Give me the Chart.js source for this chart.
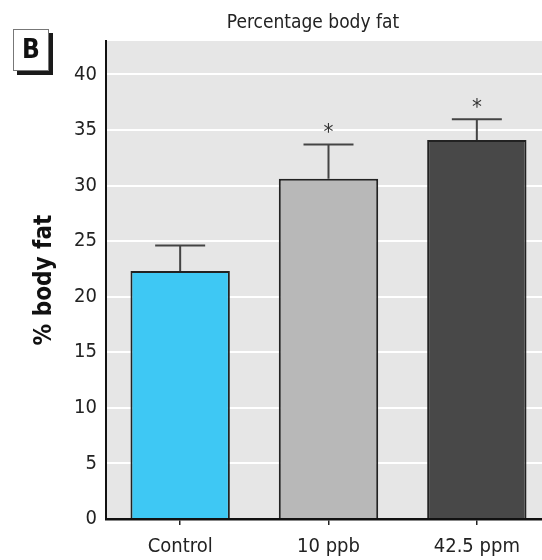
<!DOCTYPE html>
<html>
<head>
<meta charset="utf-8">
<script src="https://cdn.jsdelivr.net/npm/chart.js@4.4.0/dist/chart.umd.min.js"></script>
<style>
  html, body { margin: 0; padding: 0; background: #fff; overflow: hidden; }
  #wrap { position: relative; width: 551px; height: 560px; }
</style>
</head>
<body>
<div id="wrap"><canvas id="myChart"></canvas></div>
<script>
const categories = ['Control', '10 ppb', '42.5 ppm'];
const meanFat = [22.3, 30.6, 34.1];
const errorFat = [2.3, 3.1, 1.85];
const significant = [false, true, true];
const yTicks = [0, 5, 10, 15, 20, 25, 30, 35, 40];

const fontFamily = '"Liberation Sans Narrow", "DejaVu Sans Condensed", sans-serif';

// gray plot background, error bars, asterisks, panel letter and title
const decorations = {
    id: 'decorations',
    beforeDraw(chart) {
        const a = chart.chartArea;
        const ctx = chart.ctx;
        ctx.save();
        ctx.fillStyle = '#e6e6e6';
        ctx.fillRect(a.left, a.top, a.right - a.left, a.bottom - a.top);
        ctx.restore();
    },
    afterDatasetsDraw(chart) {
        const ctx = chart.ctx;
        const meta = chart.getDatasetMeta(0);
        const y = chart.scales.y;
        ctx.save();
        meta.data.forEach(function(bar, i) {
            const top = y.getPixelForValue(meanFat[i] + errorFat[i]);
            ctx.strokeStyle = '#444';
            ctx.lineWidth = 2;
            ctx.beginPath();
            ctx.moveTo(bar.x, bar.y);
            ctx.lineTo(bar.x, top);
            ctx.moveTo(bar.x - 25, top);
            ctx.lineTo(bar.x + 25, top);
            ctx.stroke();
            if (significant[i]) {
                ctx.fillStyle = '#333';
                ctx.font = '22px ' + fontFamily;
                ctx.textAlign = 'center';
                ctx.textBaseline = 'middle';
                ctx.fillText('*', bar.x, top - 11);
            }
        });
        ctx.restore();
    },
    afterDraw(chart) {
        const ctx = chart.ctx;
        ctx.save();
        ctx.fillStyle = '#222';
        ctx.font = '19px ' + fontFamily;
        ctx.textAlign = 'center';
        ctx.textBaseline = 'alphabetic';
        ctx.fillText('Percentage body fat', 313, 28);

        // panel letter box
        ctx.fillStyle = '#1a1a1a';
        ctx.fillRect(17, 33, 36, 42);
        ctx.fillStyle = '#fff';
        ctx.fillRect(13, 29, 36, 42);
        ctx.strokeStyle = '#777';
        ctx.lineWidth = 1;
        ctx.strokeRect(13.5, 29.5, 35, 41);
        ctx.fillStyle = '#111';
        ctx.font = 'bold 26px ' + fontFamily;
        ctx.textBaseline = 'middle';
        ctx.fillText('B', 31, 51);
        ctx.restore();
    }
};

const ctx = document.getElementById('myChart').getContext('2d');
const myChart = new Chart(ctx, {
    type: 'bar',
    data: {
        labels: categories,
        datasets: [{
            label: '% body fat',
            data: meanFat,
            backgroundColor: ['#3ec8f4', '#b8b8b8', '#484848'],
            borderColor: '#222',
            borderWidth: 2,
            borderSkipped: 'bottom',
            barPercentage: 0.67,
            categoryPercentage: 1.0
        }]
    },
    options: {
        responsive: true,
        maintainAspectRatio: false,
        animation: false,
        devicePixelRatio: 1,
        layout: { padding: { top: 41, right: 0, left: 0, bottom: 0 } },
        plugins: {
            legend: { display: false },
            tooltip: { enabled: false }
        },
        scales: {
            x: {
                grid: {
                    display: true,
                    offset: false,
                    drawOnChartArea: false,
                    drawTicks: true,
                    tickLength: 6,
                    color: '#222',
                    lineWidth: 1.5
                },
                border: { display: true, color: '#111', width: 2.5 },
                ticks: {
                    color: '#222',
                    padding: 10,
                    font: { family: fontFamily, size: 20 }
                },
                afterFit(axis) { axis.height = 41; }
            },
            y: {
                min: 0,
                max: 43,
                afterBuildTicks(axis) {
                    axis.ticks = yTicks.map(v => ({ value: v }));
                },
                grid: {
                    color: '#ffffff',
                    lineWidth: 2,
                    drawTicks: false
                },
                border: { display: true, color: '#111', width: 2 },
                ticks: {
                    color: '#222',
                    padding: 9,
                    font: { family: fontFamily, size: 20 }
                },
                title: {
                    display: true,
                    text: '% body fat',
                    color: '#111',
                    padding: { top: 30, bottom: 0 },
                    font: { family: fontFamily, size: 24, weight: 'bold' }
                },
                afterFit(axis) { axis.width = 106; }
            }
        }
    },
    plugins: [decorations]
});
</script>
</body>
</html>
